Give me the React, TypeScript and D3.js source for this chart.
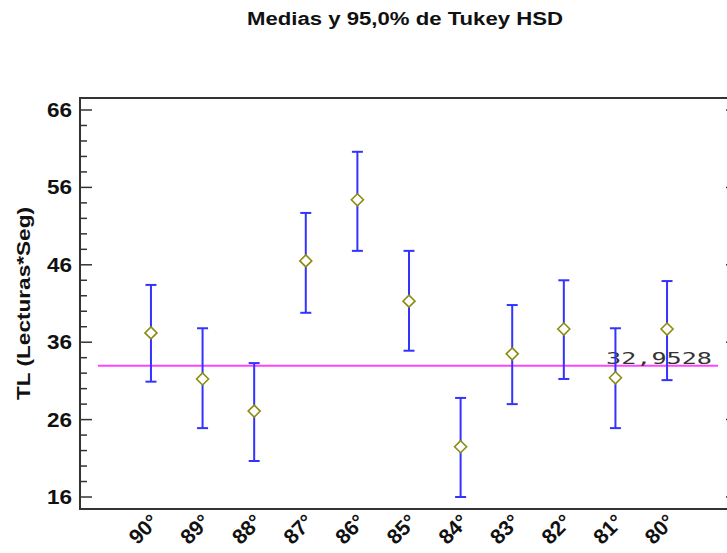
import React from "react";
import * as d3 from "d3";

const categories = ["90°", "89°", "88°", "87°", "86°", "85°", "84°", "83°", "82°", "81°", "80°"];
const means = [37.2, 31.25, 27.1, 46.5, 54.4, 41.3, 22.5, 34.5, 37.7, 31.4, 37.7];
const lower = [30.9, 24.9, 20.65, 39.8, 47.8, 34.9, 16.0, 28.0, 31.25, 24.9, 31.1];
const upper = [43.4, 37.8, 33.3, 52.7, 60.6, 47.8, 28.8, 40.8, 44.0, 37.8, 43.9];
const grandMean = 32.9528;
const yTicks = [16, 26, 36, 46, 56, 66];
const yMinorTicks = d3.range(16, 67, 2);

const W = 727;
const H = 553;
const left = 80;
const right = 738;
const top = 98;
const bottom = 509;

export default function App() {
  const x = d3.scalePoint<string>().domain(categories).range([left, right]).padding(1.375);
  const y = d3.scaleLinear().domain([14.45, 67.55]).range([bottom, top]);
  const font = "Arial, 'Liberation Sans', Helvetica, sans-serif";
  const d = 6;

  return (
    <svg width={W} height={H} style={{ position: "absolute", left: 0, top: 0, background: "#fff" }}>
      <text
        x={247}
        y={25}
        textLength={316}
        lengthAdjust="spacingAndGlyphs"
        fontFamily={font}
        fontWeight="bold"
        fontSize={18}
        fill="#111"
      >
        Medias y 95,0% de Tukey HSD
      </text>

      {/* frame */}
      <line x1={left} x2={right} y1={top} y2={top} stroke="#333" strokeWidth={2} />
      <line x1={left} x2={right} y1={bottom} y2={bottom} stroke="#333" strokeWidth={2} />
      <line x1={left} x2={left} y1={top - 1} y2={bottom + 1} stroke="#333" strokeWidth={2} />
      <line x1={right} x2={right} y1={top - 1} y2={bottom + 1} stroke="#333" strokeWidth={2} />

      {/* y ticks */}
      {yMinorTicks.map((t) => {
        const major = yTicks.includes(t);
        const len = major ? 12 : 7;
        return (
          <g key={t}>
            <line x1={left} x2={left + len} y1={y(t)} y2={y(t)} stroke="#333" strokeWidth={1.5} />
            <line x1={right} x2={right - len} y1={y(t)} y2={y(t)} stroke="#333" strokeWidth={1.5} />
          </g>
        );
      })}
      {yTicks.map((t) => (
        <text
          key={t}
          x={47}
          y={y(t) + 7}
          textLength={25}
          lengthAdjust="spacingAndGlyphs"
          fontFamily={font}
          fontWeight="bold"
          fontSize={19.5}
          fill="#111"
        >
          {t}
        </text>
      ))}
      <text
        transform={`translate(30, ${(top + bottom) / 2 + 96.5}) rotate(-90)`}
        textLength={193}
        lengthAdjust="spacingAndGlyphs"
        fontFamily={font}
        fontWeight="bold"
        fontSize={18}
        fill="#111"
      >
        TL (Lecturas*Seg)
      </text>

      {/* x labels */}
      {categories.map((c) => (
        <text
          key={c}
          transform={`translate(${(x(c) as number) + 9}, 523) rotate(-45)`}
          textAnchor="end"
          fontFamily={font}
          fontWeight="bold"
          fontSize={21}
          fill="#111"
        >
          {c}
        </text>
      ))}

      {/* grand mean */}
      <line x1={98} x2={718} y1={y(grandMean)} y2={y(grandMean)} stroke="#ff44ff" strokeWidth={2} />
      <text
        x={606}
        y={y(grandMean) - 2}
        textLength={106}
        lengthAdjust="spacingAndGlyphs"
        fontFamily="'DejaVu Sans Mono', monospace"
        fontSize={16.5}
        fill="#333"
      >
        {grandMean.toFixed(4).replace(".", ",")}
      </text>

      {/* intervals */}
      {categories.map((c, i) => {
        const cx = x(c) as number;
        const cy = y(means[i]);
        return (
          <g key={c}>
            <line x1={cx} x2={cx} y1={y(lower[i])} y2={y(upper[i])} stroke="#3333ff" strokeWidth={2} />
            <line x1={cx - 5.5} x2={cx + 5.5} y1={y(upper[i])} y2={y(upper[i])} stroke="#3333ff" strokeWidth={2} />
            <line x1={cx - 5.5} x2={cx + 5.5} y1={y(lower[i])} y2={y(lower[i])} stroke="#3333ff" strokeWidth={2} />
            <path
              d={`M${cx},${cy - d}L${cx + d},${cy}L${cx},${cy + d}L${cx - d},${cy}Z`}
              fill="#fff"
              stroke="#8b8b10"
              strokeWidth={1.6}
            />
          </g>
        );
      })}
    </svg>
  );
}
